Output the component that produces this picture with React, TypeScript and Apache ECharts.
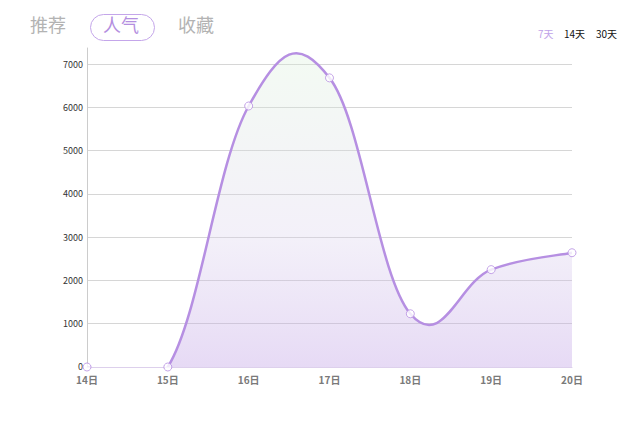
import React, { useEffect, useRef } from "react";
import * as echarts from "echarts";

const categories = ["14日", "15日", "16日", "17日", "18日", "19日", "20日"];
const values = [0, 0, 6030, 6680, 1230, 2250, 2640];
const tabs = ["推荐", "人气", "收藏"];
const ranges = ["7天", "14天", "30天"];

const FONT = "'Noto Sans CJK SC', 'Noto Sans', sans-serif";
const LINE = "#b68fe2";

type P = [number, number];

function curvePath(pts: P[]): string {
  const a = 0.2;
  const b = 0.2;
  let d = `M${pts[0][0]},${pts[0][1]}`;
  const n = pts.length;
  for (let i = 0; i < n - 1; i++) {
    let ax: number, ay: number, bx: number, by: number;
    if (i < 1) {
      ax = pts[0][0] + (pts[1][0] - pts[0][0]) * a;
      ay = pts[0][1] + (pts[1][1] - pts[0][1]) * a;
    } else {
      ax = pts[i][0] + (pts[i + 1][0] - pts[i - 1][0]) * a;
      ay = pts[i][1] + (pts[i + 1][1] - pts[i - 1][1]) * a;
    }
    if (i > n - 3) {
      const l = n - 1;
      bx = pts[l][0] - (pts[l][0] - pts[l - 1][0]) * b;
      by = pts[l][1] - (pts[l][1] - pts[l - 1][1]) * b;
    } else {
      bx = pts[i + 1][0] - (pts[i + 2][0] - pts[i][0]) * b;
      by = pts[i + 1][1] - (pts[i + 2][1] - pts[i][1]) * b;
    }
    d += ` C${ax},${ay} ${bx},${by} ${pts[i + 1][0]},${pts[i + 1][1]}`;
  }
  return d;
}

export default function App() {
  const ref = useRef<HTMLDivElement>(null);
  useEffect(() => {
    if (!ref.current) return;
    const chart = echarts.init(ref.current, null, { renderer: "svg" });
    const tabX = [30, 103, 178];
    const rangeX = [538, 564, 596];
    const seriesData = values.map((v, i) => [i, v]);
    chart.setOption({
      animation: false,
      textStyle: { fontFamily: FONT },
      grid: { left: 87, right: 68, top: 48, bottom: 55, containLabel: false },
      xAxis: {
        type: "category",
        data: categories,
        boundaryGap: false,
        axisLine: { show: true, lineStyle: { color: "#ddd0ec", width: 1 } },
        axisTick: { show: false },
        axisLabel: {
          color: "#7a7a7a",
          fontSize: 10,
          lineHeight: 10,
          margin: 7,
          fontWeight: "bold",
          fontFamily: FONT,
        },
        splitLine: { show: false },
      },
      yAxis: {
        type: "value",
        min: 0,
        max: 7370,
        interval: 1000,
        axisLine: { show: true, lineStyle: { color: "#cccccc", width: 1 } },
        axisTick: { show: false },
        axisLabel: {
          color: "#333",
          fontSize: 9,
          lineHeight: 9,
          margin: 4,
          fontFamily: FONT,
          formatter: (v: number) => (v % 1000 === 0 ? (v === 0 ? "{z|0}" : String(v)) : ""),
          rich: { z: { fontSize: 9, lineHeight: 8, padding: [0, 0, 1, 0] } },
        },
        splitLine: { show: true, showMaxLine: false, lineStyle: { color: "#d6d6d6", width: 1 } },
      },
      series: [
        {
          type: "custom",
          clip: true,
          data: seriesData,
          encode: { x: 0, y: 1 },
          z: 2,
          renderItem: (params: any, api: any) => {
            if (params.dataIndex !== 0) return null;
            const pts: P[] = values.map((v, i) => api.coord([i, v]) as P);
            const base = api.coord([0, 0])[1];
            const line = curvePath(pts);
            const area =
              line +
              ` L${pts[pts.length - 1][0]},${base} L${pts[0][0]},${base} Z`;
            return {
              type: "group",
              children: [
                {
                  type: "path",
                  shape: { pathData: area },
                  style: {
                    fill: new echarts.graphic.LinearGradient(0, 0, 0, 1, [
                      { offset: 0, color: "rgba(215,240,215,0.3)" },
                      { offset: 0.55, color: "rgba(215,205,235,0.3)" },
                      { offset: 1, color: "rgba(180,140,225,0.36)" },
                    ]),
                    stroke: "none",
                  },
                },
                {
                  type: "path",
                  shape: { pathData: line },
                  style: { fill: "none", stroke: LINE, lineWidth: 2.5 },
                },
              ],
            };
          },
        },
        {
          type: "scatter",
          data: seriesData,
          symbol: "circle",
          symbolSize: 8,
          z: 5,
          itemStyle: { color: "#ffffff", borderColor: LINE, borderWidth: 1 },
        },
      ],
      graphic: [
        ...tabs.map((t, i) => ({
          type: "text",
          left: tabX[i],
          top: 15,
          style: {
            text: t,
            fontSize: 18,
            fontFamily: FONT,
            fill: i === 1 ? "#b48fe0" : "#b3b3b3",
          },
        })),
        {
          type: "rect",
          shape: { x: 90.5, y: 14.5, width: 64, height: 26, r: 13 },
          style: { fill: "none", stroke: "#c4a6ea", lineWidth: 1 },
        },
        ...ranges.map((t, i) => ({
          type: "text",
          left: rangeX[i],
          top: 28,
          style: {
            text: t,
            fontSize: 10,
            fontFamily: FONT,
            fill: i === 0 ? "#c0a3e8" : "#111111",
          },
        })),
      ],
    });
    return () => chart.dispose();
  }, []);
  return (
    <div
      ref={ref}
      style={{ position: "absolute", left: 0, top: 0, width: 640, height: 422, background: "#fff" }}
    />
  );
}
